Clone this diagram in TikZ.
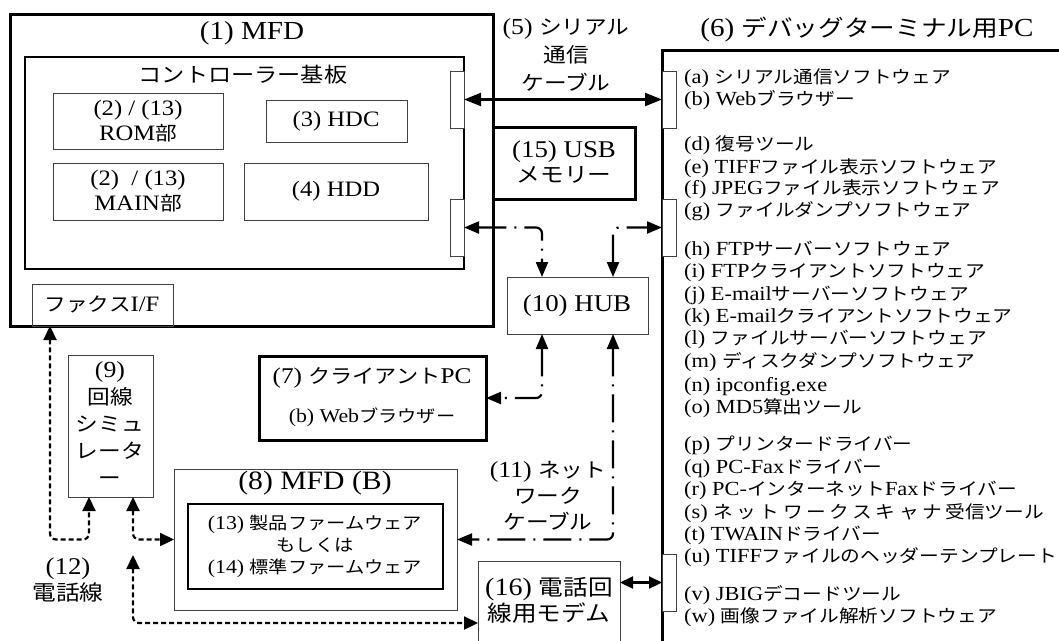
\documentclass[tikz,border=0pt]{standalone}
\usepackage{fontspec}
\setmainfont[FakeStretch=1.12]{Liberation Serif}
\newfontfamily\cjk[Scale=0.88,FakeStretch=1.12]{Noto Sans CJK JP}
\newcommand\J[1]{{\cjk #1}}
\newcommand\fsz[2]{\fontsize{#1}{#2}\selectfont}
\newcommand\sk{\kern3.5pt}
\usetikzlibrary{arrows.meta}
\begin{document}
\begin{tikzpicture}[x=1pt,y=-1pt,
  bigbox/.style={draw, line width=3pt, inner sep=0pt, outer sep=0pt, anchor=north west},
  thinbox/.style={draw=black!75, line width=1pt, inner sep=0pt, outer sep=0pt, anchor=north west},
  portbox/.style={draw=black!75, line width=1pt, fill=white, inner sep=0pt, outer sep=0pt, anchor=north west, minimum width=14pt, minimum height=57pt},
  txt/.style={inner sep=0pt, align=center},
  lt/.style={inner sep=0pt, anchor=base west, font=\fsz{20}{22}},
  serialln/.style={line width=2.2pt, {Triangle[length=17pt,width=13pt]}-{Triangle[length=17pt,width=13pt]}},
  modemln/.style={line width=2.2pt, {Triangle[length=13pt,width=12pt]}-{Triangle[length=13pt,width=12pt]}},
  netln/.style={line width=2.2pt, dash pattern=on 28pt off 8pt on 2pt off 8pt, rounded corners=6pt, {Triangle[length=15pt,width=12pt]}-{Triangle[length=15pt,width=12pt]}},
  telln/.style={line width=2.2pt, dash pattern=on 5pt off 3pt, rounded corners=6pt, {Triangle[length=14pt,width=13pt]}-{Triangle[length=14pt,width=13pt]}}
]
\useasboundingbox (0,0) rectangle (1059,640);

% (1) MFD
\node[bigbox, minimum width=483pt, minimum height=312pt] (mfd) at (10,14) {};
\node[txt, font=\fsz{26}{28}] (mfdt) at (252,33) {(1) MFD};
\node[draw, line width=1.5pt, inner sep=0pt, outer sep=0pt, anchor=north west, minimum width=439pt, minimum height=212pt] (ctrl) at (25,57) {};
\node[txt, font=\fsz{23.5}{25}] (ctrlt) at (243,75) {\J{コントローラー基板}};
\node[thinbox, minimum width=170pt, minimum height=56pt] (rom) at (53,93) {};
\node[txt, font=\fsz{22}{25}] (romt) at (138,121) {(2) / (13)\\ROM\J{部}};
\node[thinbox, minimum width=141pt, minimum height=42pt] (hdc) at (266,100) {};
\node[txt, font=\fsz{22}{25}] (hdct) at (336,121) {(3) HDC};
\node[thinbox, minimum width=170pt, minimum height=57pt] (main) at (53,163) {};
\node[txt, font=\fsz{22}{25}] (maint) at (138,191) {(2)\ \ / (13)\\MAIN\J{部}};
\node[thinbox, minimum width=184pt, minimum height=57pt] (hdd) at (244,163) {};
\node[txt, font=\fsz{22}{25}] (hddt) at (336,191) {(4) HDD};
\node[portbox] (port1) at (450,71) {};
\node[portbox] (port2) at (450,199) {};
\node[thinbox, minimum width=141pt, minimum height=42pt] (fax) at (32,284) {};
\node[txt, font=\fsz{22}{25}] (faxt) at (102,304) {\J{ファクス}I/F};

% (15) USB
\node[bigbox, minimum width=142pt, minimum height=72pt] (usb) at (493,127) {};
\node[txt, font=\fsz{24}{25}] (usbt) at (564,162) {(15) USB\\\J{メモリー}};

% (6) PC
\node[bigbox, minimum width=420pt, minimum height=620pt] (pc) at (662,50) {};
\node[txt, font=\fsz{26}{28}] (pct) at (867,30) {(6) \J{デバッグターミナル用}PC};
\node[portbox] (pcport1) at (662,71) {};
\node[portbox] (pcport2) at (662,199) {};
\node[portbox] (pcport3) at (662,554) {};

\node[lt] (la) at (684,83) {(a) \J{シリアル通信ソフトウェア}};
\node[lt] (lb) at (684,105) {(b) Web\J{ブラウザー}};
\node[lt] (ld) at (684,150) {(d) \J{復号ツール}};
\node[lt] (le) at (684,173) {(e) TIFF\J{ファイル表示ソフトウェア}};
\node[lt] (lf) at (684,194) {(f) JPEG\J{ファイル表示ソフトウェア}};
\node[lt] (lg) at (684,216) {(g) \J{ファイルダンプソフトウェア}};
\node[lt] (lh) at (684,255) {(h) FTP\J{サーバーソフトウェア}};
\node[lt] (li) at (684,277) {(i) FTP\J{クライアントソフトウェア}};
\node[lt] (lj) at (684,300) {(j) E-mail\J{サーバーソフトウェア}};
\node[lt] (lk) at (684,322) {(k) E-mail\J{クライアントソフトウェア}};
\node[lt] (ll) at (684,344) {(l) \J{ファイルサーバーソフトウェア}};
\node[lt] (lm) at (684,367) {(m) \J{ディスクダンプソフトウェア}};
\node[lt] (ln) at (684,391) {(n) ipconfig.exe};
\node[lt] (lo) at (684,413) {(o) MD5\J{算出ツール}};
\node[lt] (lp) at (684,450) {(p) \J{プリンタードライバー}};
\node[lt] (lq) at (684,473) {(q) PC-Fax\J{ドライバー}};
\node[lt] (lr) at (684,495) {(r) PC-\J{インターネット}Fax\J{ドライバー}};
\node[lt] (ls) at (684,518) {(s) \J{ネ\sk ッ\sk ト\sk ワ\sk ー\sk ク\sk ス\sk キ\sk ャ\sk ナ\sk 受信ツール}};
\node[lt] (ltw) at (684,540) {(t) TWAIN\J{ドライバー}};
\node[lt] (lu) at (684,562) {(u) TIFF\J{ファイルのヘッダーテンプレート}};
\node[lt] (lv) at (684,600) {(v) JBIG\J{デコードツール}};
\node[lt] (lw) at (684,622) {(w) \J{画像ファイル解析ソフトウェア}};

% (5) label
\node[txt, font=\fsz{23}{28}] (serlab) at (566,55) {(5) \J{シリアル}\\\J{通信}\\\J{ケーブル}};

% (10) HUB
\node[thinbox, minimum width=141pt, minimum height=57pt] (hub) at (507,277) {};
\node[txt, font=\fsz{24}{25}] (hubt) at (577,306) {(10) HUB};
\coordinate (hubt1) at (542,277);
\coordinate (hubt2) at (613,277);
\coordinate (hubb1) at (542,334);
\coordinate (hubb2) at (613,334);

% (7) client PC
\node[bigbox, minimum width=227pt, minimum height=84pt] (client) at (259,356) {};
\node[txt, font=\fsz{22.5}{25}] (clientt) at (372,378) {(7) \J{クライアント}PC};
\node[txt, font=\fsz{19.5}{22}] (clients) at (372,417) {(b) Web\J{ブラウザー}};

% (9) simulator
\node[thinbox, minimum width=85pt, minimum height=142pt] (sim) at (68,355) {};
\node[txt, font=\fsz{23}{27}] (simt) at (110,424) {(9)\\\J{回線}\\\J{シミュ}\\\J{レータ}\\\J{ー}};
\coordinate (simb1) at (89,497);
\coordinate (simb2) at (133,497);

% (8) MFD (B)
\node[thinbox, minimum width=283pt, minimum height=141pt] (mfdb) at (174,469) {};
\node[txt, font=\fsz{26.5}{28}] (mfdbt) at (315,483) {(8) MFD (B)};
\node[draw, line width=2pt, inner sep=0pt, outer sep=0pt, anchor=north west, minimum width=255pt, minimum height=85pt] (fw) at (188,504) {};
\node[txt, font=\fsz{19.5}{22}] (fwt) at (315,546) {(13) \J{製品ファームウェア}\\\J{もしくは}\\(14) \J{標準ファームウェア}};

% (16) modem
\node[thinbox, minimum width=142pt, minimum height=124pt] (modem) at (478,561) {};
\node[txt, font=\fsz{25}{26}] (modemt) at (549,600) {(16) \J{電話回}\\\J{線用モデム}};

% labels
\node[txt, font=\fsz{23}{26}] (netlab) at (548,496) {(11) \J{ネット}\\\J{ワーク}\\\J{ケーブル}};
\node[txt, font=\fsz{24}{26}] (tellab) at (68,580) {(12)\\\J{電話線}};

% connectors
\draw[serialln] (port1.east) -- (pcport1.west);
\draw[modemln] (modem.east |- pcport3.west) -- (pcport3.west);
\draw[netln] (port2.east) -| (hubt1);
\draw[netln] (hubt2) |- (pcport2.west);
\draw[netln] (hubb1) |- (client.east);
\draw[netln] (hubb2) |- (mfdb.east);
\coordinate (faxb) at (50,326);
\coordinate (telfree) at (133,555);
\draw[telln] (faxb) |- (simb1 |- mfdb.west) -- (simb1);
\draw[telln] (simb2) |- (mfdb.west);
\draw[telln] (telfree) |- (modem.west);
\end{tikzpicture}
\end{document}
